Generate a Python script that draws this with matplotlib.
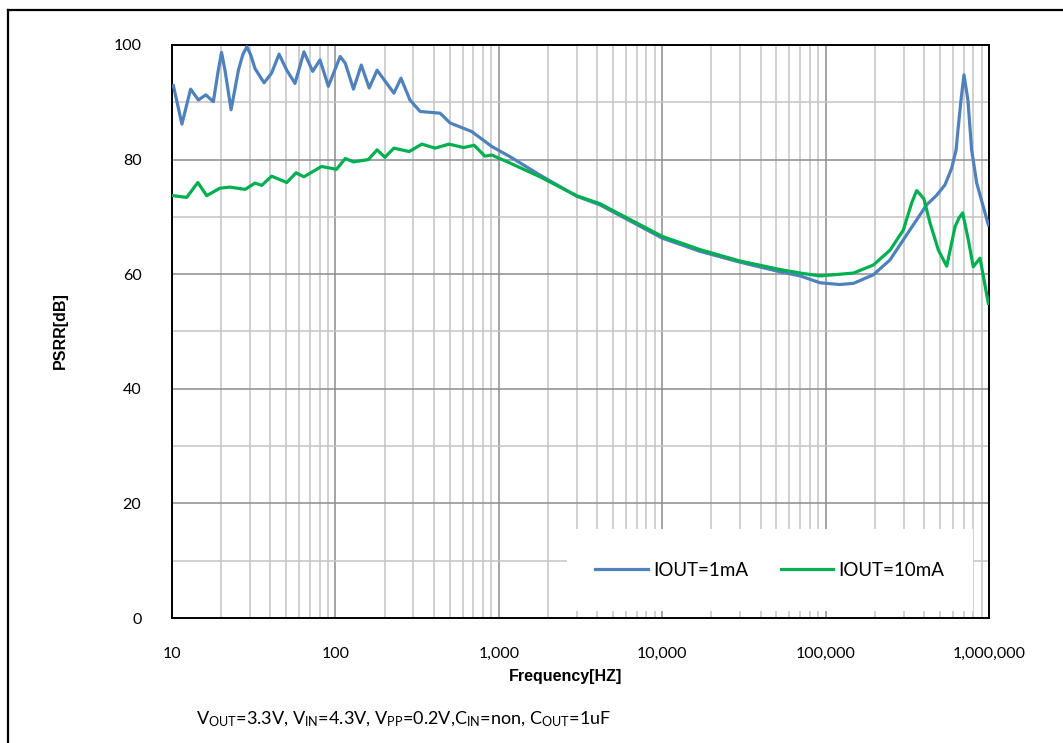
import matplotlib
matplotlib.use('Agg')
import matplotlib.pyplot as plt
import numpy as np
from matplotlib.ticker import FixedLocator, FuncFormatter, NullFormatter
from matplotlib.patches import Rectangle
from matplotlib.lines import Line2D

# PSRR vs frequency, two load currents
freq_1ma = [10.2, 11.5, 13.0, 14.5, 16.1, 17.9, 19.2, 20.1, 21.1, 23.0, 25.5, 27.1, 28.7,
            30.3, 32.2, 36.6, 40.7, 45.2, 50.4, 56.6, 64.2, 72.6, 80.5, 90.5, 107, 115, 129,
            144, 161, 180, 228, 252, 286, 330, 437, 503, 682, 905, 1172, 1786, 3000, 4160,
            10000, 17000, 29900, 53000, 70000, 92500, 122000, 148000, 196000, 248000,
            299000, 361000, 415000, 479000, 538000, 591000, 629000, 646000, 674000, 703000,
            743000, 783000, 841000, 991000]
psrr_1ma = [92.9, 86.2, 92.3, 90.4, 91.3, 90.1, 95.6, 98.7, 95.6, 88.7, 95.6, 98.3, 99.7,
            98.3, 95.9, 93.4, 95.1, 98.4, 95.6, 93.3, 98.8, 95.4, 97.4, 92.8, 98.0, 96.8, 92.3,
            96.5, 92.5, 95.6, 91.6, 94.2, 90.4, 88.4, 88.1, 86.4, 84.9, 82.3, 80.5, 77.3, 73.6,
            72.1, 66.3, 64.0, 62.1, 60.4, 59.7, 58.5, 58.2, 58.4, 59.9, 62.5,
            66.0, 69.5, 72.1, 73.8, 75.6, 78.5, 81.7, 85.2, 90.4, 94.8,
            90.4, 81.7, 75.9, 68.6]

freq_10ma = [10.2, 12.3, 14.4, 16.3, 19.6, 22.6, 28.0, 32.2, 35.4, 40.7, 50.4, 57.4, 64.2,
             82.3, 101.5, 115, 129, 159, 180, 201, 228, 283, 338, 408, 496, 608, 707, 822,
             905, 1172, 1786, 3000, 4160, 10000, 17000, 29900, 53000, 70000, 92500,
             148000, 196000, 248000, 299000, 336000, 361000, 399000, 436000, 490000,
             551000, 620000, 655000, 690000, 747000, 801000, 881000, 991000]
psrr_10ma = [73.7, 73.4, 76.0, 73.7, 75.0, 75.2, 74.8, 75.9, 75.5, 77.1, 76.0, 77.7, 77.0,
             78.8, 78.3, 80.2, 79.6, 80.0, 81.7, 80.4, 82.0, 81.4, 82.7, 82.0, 82.7, 82.1, 82.5, 80.6,
             80.8, 79.4, 77.0, 73.7, 72.3, 66.6, 64.3, 62.3, 60.8, 60.2, 59.7,
             60.2, 61.6, 64.2, 67.7, 72.4, 74.6, 73.2, 68.9, 64.2,
             61.4, 68.3, 69.8, 70.7, 66.0, 61.3, 62.8, 54.9]

x_ticks = [10, 100, 1000, 10000, 100000, 1000000]
y_ticks = [0, 20, 40, 60, 80, 100]

plt.rcParams['font.family'] = ['Lato', 'DejaVu Sans']

fig = plt.figure(figsize=(10.63, 7.43), dpi=100)
W, H = 1063, 743
ax = fig.add_axes([172 / W, 1 - 618 / H, (989 - 172) / W, (618 - 45) / H])

ax.set_xscale('log')
ax.set_xlim(10, 1e6)
ax.set_ylim(0, 100)

# grid: darker majors, lighter minors
minor_x = [m * 10 ** e for e in range(1, 6) for m in range(2, 10)]
ax.xaxis.set_major_locator(FixedLocator(x_ticks))
ax.xaxis.set_minor_locator(FixedLocator(minor_x))
ax.xaxis.set_minor_formatter(NullFormatter())
ax.xaxis.set_major_formatter(FuncFormatter(lambda v, p: f'{int(round(v)):,}'))
ax.yaxis.set_major_locator(FixedLocator(y_ticks))
ax.yaxis.set_minor_locator(FixedLocator([10, 30, 50, 70, 90]))
ax.grid(which='major', color='#8c8c8c', linewidth=1.1)
ax.grid(which='minor', color='#c4c4c4', linewidth=1.1)
ax.tick_params(which='both', length=0)
ax.tick_params(axis='x', pad=21, labelsize=11.5)
ax.tick_params(axis='y', pad=22, labelsize=11.5)
for s in ax.spines.values():
    s.set_color('black')
    s.set_linewidth(1.4)

ax.plot(freq_1ma, psrr_1ma, color='#4f81bd', linewidth=2.3, label='IOUT=1mA', zorder=3,
        solid_joinstyle='round')
ax.plot(freq_10ma, psrr_10ma, color='#00b050', linewidth=2.3, label='IOUT=10mA', zorder=3,
        solid_joinstyle='round')

# white legend panel
lx0, lx1 = (567 - 172) / 817, (973 - 172) / 817
ly0, ly1 = (618 - 611) / 573, (618 - 529) / 573
ax.add_patch(Rectangle((lx0, ly0), lx1 - lx0, ly1 - ly0, transform=ax.transAxes,
                       facecolor='white', edgecolor='none', zorder=2))
ax.legend(loc='center', bbox_to_anchor=(lx0, ly0, lx1 - lx0, ly1 - ly0), ncol=2,
          frameon=False, fontsize=13.5, handlelength=2.8, handletextpad=0.3,
          columnspacing=1.7)

fig.text(566 / W, 1 - 677 / H, 'Frequency[HZ]', ha='center', va='center',
         fontsize=11.5, fontweight='bold', family='Liberation Sans')
fig.text(60 / W, 1 - 331 / H, 'PSRR[dB]', ha='center', va='center', rotation=90,
         fontsize=11.5, fontweight='bold', family='Liberation Sans')

note = (r'$\mathregular{V_{OUT}}$=3.3V, $\mathregular{V_{IN}}$=4.3V, '
        r'$\mathregular{V_{PP}}$=0.2V,$\mathregular{C_{IN}}$=non, '
        r'$\mathregular{C_{OUT}}$=1uF')
fig.text(196 / W, 1 - 719 / H, note, ha='left', va='center', fontsize=13)

# outer chart frame
fig.add_artist(Line2D([8 / W, 8 / W], [0, 1 - 10 / H], transform=fig.transFigure,
                      color='black', linewidth=1.6))
fig.add_artist(Line2D([8 / W, 1], [1 - 10 / H, 1 - 10 / H], transform=fig.transFigure,
                      color='black', linewidth=1.6))

fig.savefig('out.png', dpi=100)
